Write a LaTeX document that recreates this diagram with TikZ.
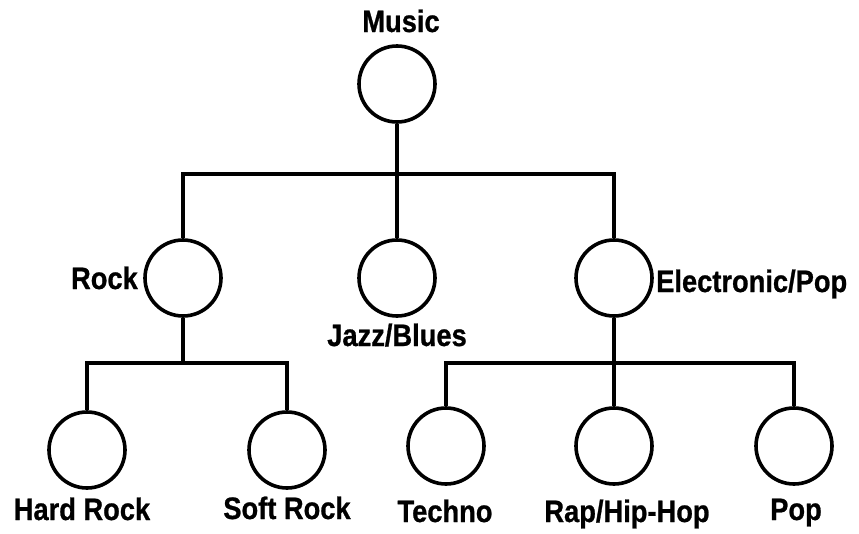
\documentclass[tikz,border=0pt]{standalone}
\usepackage{fontspec}
\newfontfamily\lblfont[FakeStretch=0.88,BoldFeatures={FakeBold=0.8}]{Liberation Sans}
\begin{document}
\begin{tikzpicture}[x=1pt,y=-1pt,
  genre/.style={circle,draw=black,line width=3.6pt,minimum size=76pt,inner sep=0pt},
  lbl/.style={anchor=base,inner sep=0pt,font=\lblfont\bfseries\fontsize{31}{36}\selectfont},
  link/.style={draw=black,line width=3.6pt,line join=miter}]
\useasboundingbox (0,0) rectangle (859,533);
% nodes
\node[genre] (music) at (397,84) {};
\node[genre] (rock) at (183,278) {};
\node[genre] (jazz) at (397,278) {};
\node[genre] (elec) at (614,278) {};
\node[genre] (hard) at (87,450) {};
\node[genre] (soft) at (287,450) {};
\node[genre] (techno) at (446,446) {};
\node[genre] (rap) at (614,446) {};
\node[genre] (pop) at (794,446) {};
% labels
\node[lbl] (lmusic) at (401,32) {Music};
\node[lbl,anchor=base east] (lrock) at (138,289) {Rock};
\node[lbl] (ljazz) at (397,346) {Jazz/Blues};
\node[lbl,anchor=base west] (lelec) at (656,292) {Electronic/Pop};
\node[lbl] (lhard) at (82,520) {Hard Rock};
\node[lbl] (lsoft) at (287,519) {Soft Rock};
\node[lbl] (ltechno) at (445,522) {Techno};
\node[lbl] (lrap) at (627,522) {Rap/Hip-Hop};
\node[lbl] (lpop) at (796,520) {Pop};
% junctions
\coordinate (j1) at (397,174);
\coordinate (j2) at (183,363);
\coordinate (j3) at (614,363);
% connectors
\path[link] (music.south) -- (j1);
\path[link] (j1) -| (rock.north);
\path[link] (j1) -| (elec.north);
\path[link] (j1) -- (jazz.north);
\path[link] (rock.south) -- (j2);
\path[link] (j2) -| (hard.north);
\path[link] (j2) -| (soft.north);
\path[link] (elec.south) -- (j3);
\path[link] (j3) -| (techno.north);
\path[link] (j3) -| (pop.north);
\path[link] (j3) -- (rap.north);
\end{tikzpicture}
\end{document}
